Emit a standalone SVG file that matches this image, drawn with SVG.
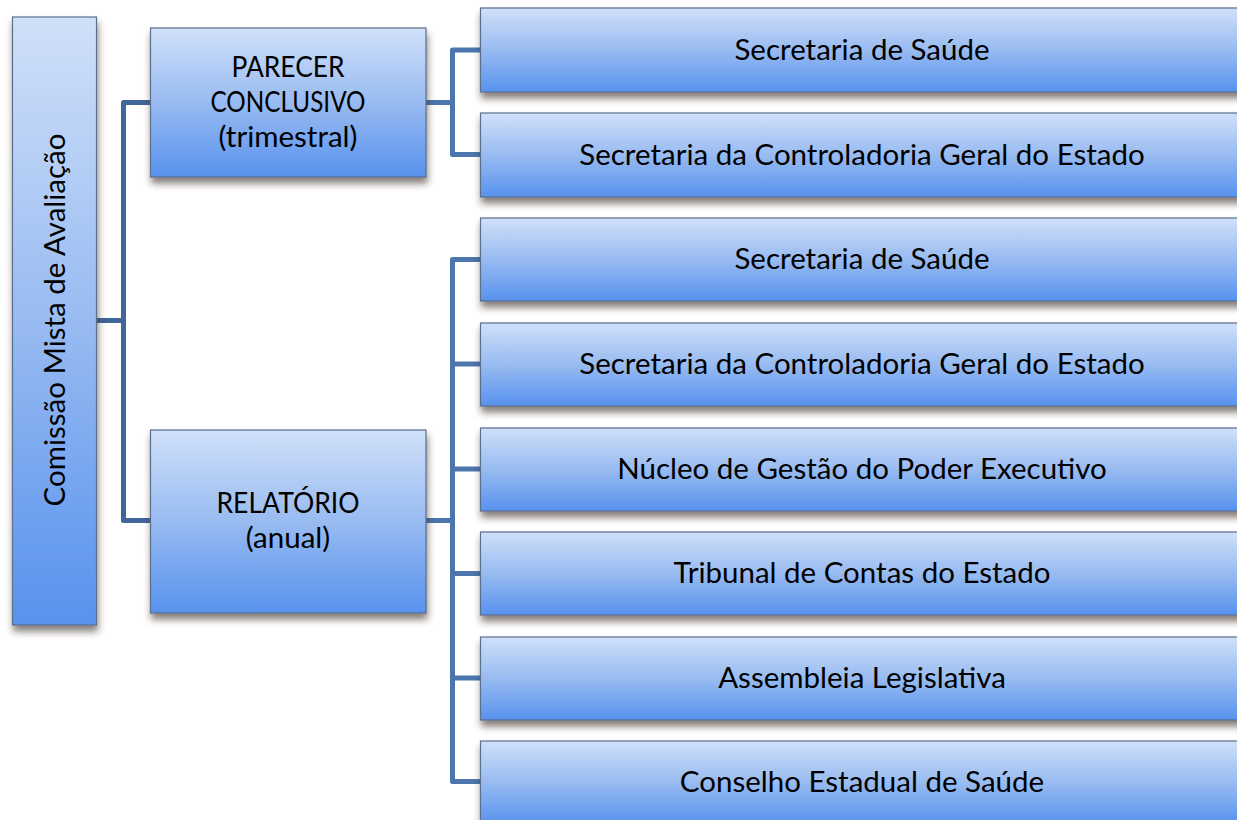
<svg xmlns="http://www.w3.org/2000/svg" width="1237" height="820" viewBox="0 0 1237 820">
<defs>
<linearGradient id="g" x1="0" y1="0" x2="0" y2="1">
<stop offset="0" stop-color="#d0e0f9"/>
<stop offset="0.5" stop-color="#98bbf1"/>
<stop offset="1" stop-color="#5892ee"/>
</linearGradient>
<filter id="sh" x="-10%" y="-10%" width="130%" height="140%">
<feGaussianBlur in="SourceAlpha" stdDeviation="3.5"/>
<feOffset dx="1" dy="6" result="b"/>
<feFlood flood-color="#3a2a20" flood-opacity="0.6"/>
<feComposite in2="b" operator="in"/>
<feMerge><feMergeNode/><feMergeNode in="SourceGraphic"/></feMerge>
</filter>
</defs>
<style>
.box{fill:url(#g);stroke:#5a6f8c;stroke-width:1.2;filter:url(#sh)}
.t{font-family:Lato,"Liberation Sans",sans-serif;font-size:29.5px;fill:#000;text-anchor:middle}
.c{fill:none;stroke-width:5;stroke-linejoin:round}
.c1{stroke:#41669a}
.c2{stroke:#4a76ad}
</style>
<rect width="1237" height="820" fill="#fff"/>
<g id="connectors">
<path class="c c1" d="M96.5 320.5 H123.5 M150 102.5 H123.5 V520.5 H150"/>
<path class="c c2" d="M426 102.5 H452.5 M480 50 H452.5 V154.5 H480"/>
<path class="c c2" d="M426 520.5 H452.5 M480 259.5 H452.5 V781.5 H480 M452.5 364 H480 M452.5 469 H480 M452.5 573.5 H480 M452.5 678 H480"/>
</g>
<g id="n-comissao">
<rect class="box" x="12.5" y="17" width="84" height="608"/>
<text class="t" transform="translate(65 320) rotate(-90)">Comissão Mista de Avaliação</text>
</g>
<g id="n-parecer">
<rect class="box" x="150.5" y="28" width="275.5" height="149"/>
<text class="t" x="288" y="77" textLength="113" lengthAdjust="spacingAndGlyphs">PARECER</text>
<text class="t" x="288" y="112" textLength="155" lengthAdjust="spacingAndGlyphs">CONCLUSIVO</text>
<text class="t" x="288" y="147">(trimestral)</text>
</g>
<g id="n-relatorio">
<rect class="box" x="150.5" y="430" width="275.5" height="183"/>
<text class="t" x="288" y="513" textLength="143" lengthAdjust="spacingAndGlyphs">RELATÓRIO</text>
<text class="t" x="288" y="548">(anual)</text>
</g>
<g id="n-p1"><rect class="box" x="480.5" y="8" width="770" height="84"/><text class="t" x="862" y="60">Secretaria de Saúde</text></g>
<g id="n-p2"><rect class="box" x="480.5" y="113" width="770" height="84"/><text class="t" x="862" y="165">Secretaria da Controladoria Geral do Estado</text></g>
<g id="n-r1"><rect class="box" x="480.5" y="218" width="770" height="83"/><text class="t" x="862" y="269">Secretaria de Saúde</text></g>
<g id="n-r2"><rect class="box" x="480.5" y="323" width="770" height="83"/><text class="t" x="862" y="374">Secretaria da Controladoria Geral do Estado</text></g>
<g id="n-r3"><rect class="box" x="480.5" y="428" width="770" height="83"/><text class="t" x="862" y="479">Núcleo de Gestão do Poder Executivo</text></g>
<g id="n-r4"><rect class="box" x="480.5" y="532" width="770" height="83"/><text class="t" x="862" y="583">Tribunal de Contas do Estado</text></g>
<g id="n-r5"><rect class="box" x="480.5" y="637" width="770" height="83"/><text class="t" x="862" y="688">Assembleia Legislativa</text></g>
<g id="n-r6"><rect class="box" x="480.5" y="741" width="770" height="83"/><text class="t" x="862" y="792">Conselho Estadual de Saúde</text></g>
</svg>
